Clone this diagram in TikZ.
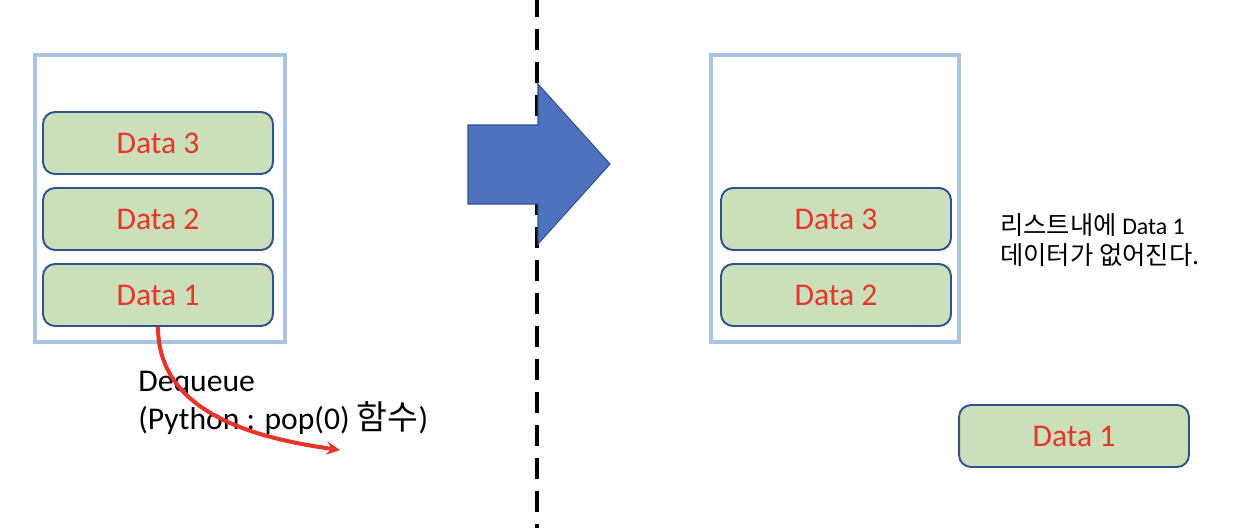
\documentclass[tikz,border=0pt]{standalone}
\usepackage{fontspec}
\setmainfont{Carlito}
\newfontfamily\kr[Scale=1.06]{Noto Sans CJK KR}
\definecolor{boxgreen}{HTML}{CADFBA}
\definecolor{boxline}{HTML}{2F528F}
\definecolor{datared}{HTML}{E8352A}
\definecolor{listblue}{HTML}{A9C4E3}
\definecolor{bigblue}{HTML}{4E72BE}

\begin{document}
\begin{tikzpicture}[
    x=0.02cm, y=0.02cm,
    >=stealth,
    list/.style={draw=listblue, line width=2.3pt, minimum height=5.74cm, inner sep=0},
    data/.style={draw=boxline, fill=boxgreen, line width=1.1pt, rounded corners=0.24cm,
                 minimum width=4.6cm, minimum height=1.24cm, inner sep=0,
                 text=datared, font=\fontsize{18}{22}\selectfont}
]
\useasboundingbox (0,0) rectangle (1254,-528);

% divider
\draw[line width=2.3pt, dash pattern=on 0.42cm off 0.24cm] (537,4) -- (537,-528);

\node (lbox) [list, minimum width=5cm]    at (160,-198.5) {};
\node (rbox) [list, minimum width=4.96cm] at (835,-198.5) {};

\node (ld3) [data] at (158,-143) {Data 3};
\node (ld2) [data] at (158,-219) {Data 2};
\node (ld1) [data] at (158,-295) {Data 1};

\node (rd3) [data] at (836,-219) {Data 3};
\node (rd2) [data] at (836,-295) {Data 2};

\node (out1) [data] at (1074,-436) {Data 1};

\node (deq) [anchor=north west, inner sep=0, align=left,
             font=\fontsize{18}{21.5}\selectfont] at (138,-371)
    {Dequeue\\(Python : pop(0) {\kr 함수})};

\node (note) [anchor=north west, inner sep=0, align=left,
              font=\fontsize{13.6}{17}\selectfont] at (1000,-213)
    {{\kr 리스트내에} Data 1\\{\kr 데이터가 없어진다.}};

% Edges
\coordinate (popend) at (340,-450);
\draw[->, draw=datared, line width=2.3pt] (ld1.south) to[out=-90, in=172] (popend);

% big arrow
\filldraw[fill=bigblue, draw=boxline, line width=0.6pt]
    (468,-125) -- (538,-125) -- (538,-84) -- (610,-164) -- (538,-244)
    -- (538,-204) -- (468,-204) -- cycle;

\end{tikzpicture}
\end{document}
